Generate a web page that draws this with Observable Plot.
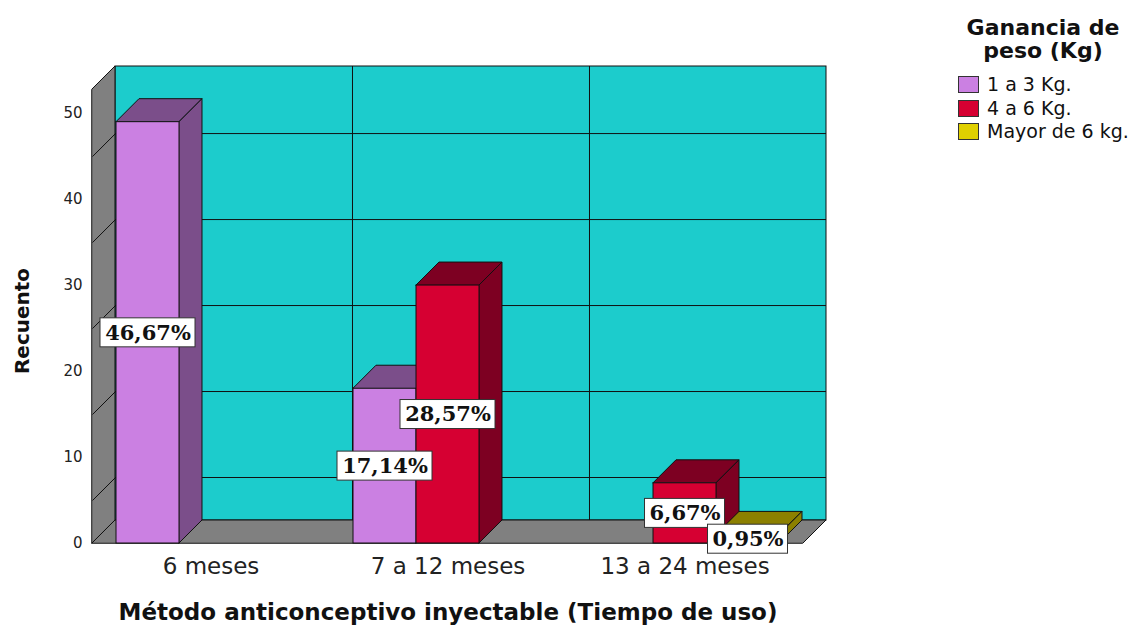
<!DOCTYPE html>
<html>
<head>
<meta charset="utf-8">
<script src="https://cdn.jsdelivr.net/npm/d3@7"></script>
<script src="https://cdn.jsdelivr.net/npm/@observablehq/plot@0.6"></script>
<style>
  html, body { margin: 0; padding: 0; background: #fff; }
  #wrap { position: relative; width: 1134px; height: 626px; overflow: hidden; font-family: "DejaVu Sans", sans-serif; }
  #legend { position: absolute; left: 948px; top: 16px; width: 186px; color: #111; }
  #legend .ttl { font-weight: bold; font-size: 22px; line-height: 23px; text-align: center; width: 194px; margin-left: -2px; }
  #legend .row { position: absolute; left: 10px; height: 17px; display: flex; align-items: center; white-space: nowrap; }
  #legend .sw { width: 21px; height: 17px; box-sizing: border-box; border: 1.5px solid #333; margin-right: 8px; }
  #legend .lab { font-size: 19px; line-height: 17px; color: #111; }
</style>
</head>
<body>
<div id="wrap"></div>
<script>
// ---- data ----
const categories = ["6 meses", "7 a 12 meses", "13 a 24 meses"];
const seriesNames = ["1 a 3 Kg.", "4 a 6 Kg.", "Mayor de 6 kg."];
const counts1a3 = [49, 18, 0];
const counts4a6 = [0, 30, 7];
const countsMayor = [0, 0, 1];
const yTicks = [0, 10, 20, 30, 40, 50];
const gridLevels = [5, 15, 25, 35, 45];
const xTitle = "Método anticonceptivo inyectable (Tiempo de uso)";
const yTitle = "Recuento";
const legendTitle = ["Ganancia de", "peso (Kg)"];

// ---- styles ----
const frontColors = ["#CB80E2", "#D60032", "#E0D000"];
const shadeColors = ["#7B4E8A", "#7D0022", "#8C8000"];
const wallColor = "#1CCCCC";
const floorColor = "#808080";
const edge = "#111";

// 3D depth (data units) and wall top
const DX = 0.097, DY = 2.674, wallTop = 52.8;

const seriesCounts = [counts1a3, counts4a6, countsMayor];
const total = d3.sum(seriesCounts.flat());
const sub = d3.scaleBand().domain(seriesNames).range([0, 1]).paddingInner(0).paddingOuter(0.381);

const bars = [];
categories.forEach((c, i) => {
  seriesNames.forEach((s, j) => {
    const v = seriesCounts[j][i];
    if (v > 0) {
      const x1 = i + sub(s), x2 = x1 + sub.bandwidth();
      bars.push({cat: c, s, j, v, x1, x2, cx: (x1 + x2) / 2,
        label: (v / total * 100).toFixed(2).replace(".", ",") + "%"});
    }
  });
});

const barMarks = bars.flatMap(b => [
  Plot.areaX([{y: b.v, a: b.x1, c: b.x2}, {y: b.v + DY, a: b.x1 + DX, c: b.x2 + DX}],
    {y: "y", x1: "a", x2: "c", fill: shadeColors[b.j], stroke: edge, strokeWidth: 1}),
  Plot.areaY([{x: b.x2, lo: 0, hi: b.v}, {x: b.x2 + DX, lo: DY, hi: b.v + DY}],
    {x: "x", y1: "lo", y2: "hi", fill: shadeColors[b.j], stroke: edge, strokeWidth: 1}),
  Plot.rect([b], {x1: "x1", x2: "x2", y1: 0, y2: "v", fill: frontColors[b.j], stroke: edge, strokeWidth: 1})
]);

const longLabels = bars.filter(b => b.label.length > 5);
const shortLabels = bars.filter(b => b.label.length <= 5);
const boxOpts = (w) => ({x1: "cx", x2: "cx", y1: d => d.v / 2, y2: d => d.v / 2,
  insetLeft: -w / 2, insetRight: -w / 2, insetTop: -14.5, insetBottom: -14.5,
  fill: "#fff", stroke: "#333", strokeWidth: 1});

const chart = Plot.plot({
  width: 1134,
  height: 626,
  marginLeft: 92,
  marginRight: 308,
  marginTop: 66,
  marginBottom: 83,
  style: {fontFamily: "DejaVu Sans, sans-serif", background: "transparent"},
  x: {domain: [0, categories.length + DX], axis: null},
  y: {domain: [0, wallTop + DY], axis: null},
  marks: [
    // back wall
    Plot.rect([0], {x1: DX, x2: categories.length + DX, y1: DY, y2: wallTop + DY, fill: wallColor, stroke: edge}),
    Plot.ruleY(gridLevels, {y: d => d + DY, x1: DX, x2: categories.length + DX, stroke: edge, strokeWidth: 1}),
    Plot.ruleX(d3.range(1, categories.length), {x: d => d + DX, y1: DY, y2: wallTop + DY, stroke: edge, strokeWidth: 1}),
    // left wall
    Plot.areaY([{x: 0, lo: 0, hi: wallTop}, {x: DX, lo: DY, hi: wallTop + DY}],
      {x: "x", y1: "lo", y2: "hi", fill: floorColor, stroke: edge, strokeWidth: 1}),
    Plot.link(gridLevels, {x1: 0, y1: d => d, x2: DX, y2: d => d + DY, stroke: edge, strokeWidth: 1}),
    // floor
    Plot.areaX([{y: 0, a: 0, c: categories.length}, {y: DY, a: DX, c: categories.length + DX}],
      {y: "y", x1: "a", x2: "c", fill: floorColor, stroke: edge, strokeWidth: 1}),
    // bars
    ...barMarks,
    // percentage labels
    Plot.rect(longLabels, boxOpts(95)),
    Plot.rect(shortLabels, boxOpts(80)),
    Plot.text(bars, {x: "cx", y: d => d.v / 2, text: "label", fontFamily: "DejaVu Serif, serif",
      fontWeight: "bold", fontSize: 21, fill: "#111"}),
    // axes
    Plot.axisY(yTicks, {tickSize: 0, tickPadding: 10, fontSize: 15, label: null, fill: "#222"}),
    Plot.text(categories, {x: (d, i) => i + 0.5, y: 0, dy: 23, fontSize: 23, fill: "#222"}),
    Plot.text([xTitle], {x: categories.length / 2, y: 0, dy: 69, fontSize: 23, fontWeight: "bold", fill: "#111"}),
    Plot.text([yTitle], {frameAnchor: "left", dx: -70, dy: 16, rotate: -90, textAnchor: "middle",
      fontSize: 20, fontWeight: "bold", fill: "#111"})
  ]
});

const wrap = document.getElementById("wrap");
wrap.appendChild(chart);

// legend
const legend = document.createElement("div");
legend.id = "legend";
legend.innerHTML = `<div class="ttl">${legendTitle.join("<br>")}</div>`;
seriesNames.forEach((s, j) => {
  const row = document.createElement("div");
  row.className = "row";
  row.style.top = (60 + j * 23.5) + "px";
  row.innerHTML = `<span class="sw" style="background:${frontColors[j]}"></span><span class="lab">${s}</span>`;
  legend.appendChild(row);
});
wrap.appendChild(legend);
</script>
</body>
</html>
